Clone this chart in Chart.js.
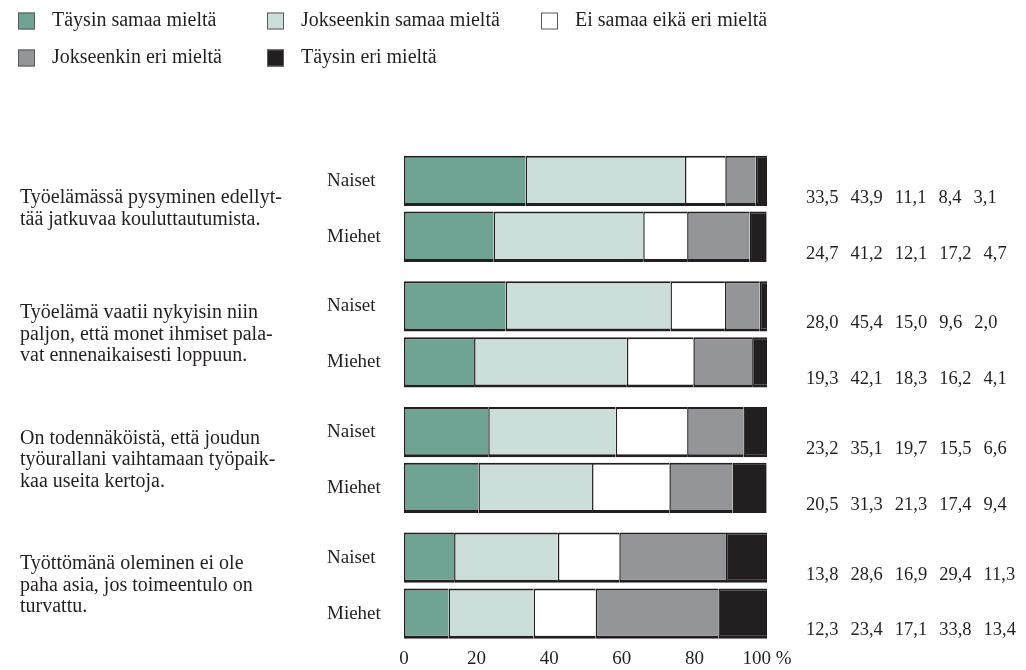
<!DOCTYPE html>
<html>
<head>
<meta charset="utf-8">
<script src="https://cdn.jsdelivr.net/npm/chart.js@4/dist/chart.umd.min.js"></script>
<style>
  html, body { margin: 0; padding: 0; background: #ffffff; }
  #wrap { width: 1026px; height: 670px; position: relative; }
</style>
</head>
<body>
<div id="wrap"><canvas id="c" width="1026" height="670"></canvas></div>
<script>
const questions = [
  ['Työelämässä pysyminen edellyt-', 'tää jatkuvaa kouluttautumista.'],
  ['Työelämä vaatii nykyisin niin', 'paljon, että monet ihmiset pala-', 'vat ennenaikaisesti loppuun.'],
  ['On todennäköistä, että joudun', 'työurallani vaihtamaan työpaik-', 'kaa useita kertoja.'],
  ['Työttömänä oleminen ei ole', 'paha asia, jos toimeentulo on', 'turvattu.']
];
const genders = ['Naiset', 'Miehet'];
const responseLabels = ['Täysin samaa mieltä', 'Jokseenkin samaa mieltä', 'Ei samaa eikä eri mieltä', 'Jokseenkin eri mieltä', 'Täysin eri mieltä'];
const responseColors = ['#6fa394', '#cbded9', '#ffffff', '#949598', '#231f20'];
const naiset = [
  [33.5, 43.9, 11.1, 8.4, 3.1],
  [28.0, 45.4, 15.0, 9.6, 2.0],
  [23.2, 35.1, 19.7, 15.5, 6.6],
  [13.8, 28.6, 16.9, 29.4, 11.3]
];
const miehet = [
  [24.7, 41.2, 12.1, 17.2, 4.7],
  [19.3, 42.1, 18.3, 16.2, 4.1],
  [20.5, 31.3, 21.3, 17.4, 9.4],
  [12.3, 23.4, 17.1, 33.8, 13.4]
];
const xTicks = [0, 20, 40, 60, 80, 100];

const FONT = '"Liberation Serif", "DejaVu Serif", serif';
const INK = '#231f20';

const groups = [naiset, miehet];
const datasets = [];
groups.forEach((rows, g) => {
  responseLabels.forEach((lab, k) => {
    datasets.push({
      label: lab,
      stack: genders[g],
      data: rows.map(r => r[k]),
      backgroundColor: responseColors[k],
      borderColor: INK,
      borderWidth: { top: 2, bottom: 3, left: 1.5, right: 0 },
      borderSkipped: false,
      inflateAmount: 0,
      categoryPercentage: 0.89,
      barPercentage: 0.9
    });
  });
});

const fmt = v => v.toFixed(1).replace('.', ',');

const overlay = {
  id: 'overlay',
  afterDraw(chart) {
    const ctx = chart.ctx;
    ctx.save();
    // legend
    ctx.font = '20px ' + FONT;
    ctx.textBaseline = 'middle';
    ctx.textAlign = 'left';
    const colX = [18, 267, 541];
    const rowY = [21, 58];
    responseLabels.forEach((lab, i) => {
      const x = colX[i % 3], y = rowY[Math.floor(i / 3)];
      ctx.fillStyle = responseColors[i];
      ctx.fillRect(x, y - 8.5, 17, 17);
      ctx.strokeStyle = '#58595b';
      ctx.lineWidth = 1;
      ctx.strokeRect(x + 0.5, y - 8, 16, 16);
      ctx.fillStyle = INK;
      ctx.fillText(lab, x + 34, y);
    });
    // gender labels and values
    genders.forEach((gname, g) => {
      const meta = chart.getDatasetMeta(g * responseLabels.length);
      meta.data.forEach((bar, i) => {
        ctx.font = '19px ' + FONT;
        ctx.fillStyle = INK;
        ctx.textAlign = 'left';
        ctx.fillText(gname, 327, bar.y);
        ctx.font = '18.5px ' + FONT;
        let x = 806;
        groups[g][i].forEach(v => {
          const s = fmt(v);
          ctx.fillText(s, x, bar.y + 17);
          x += ctx.measureText(s).width + 12;
        });
      });
    });
    ctx.restore();
  }
};

new Chart(document.getElementById('c'), {
  type: 'bar',
  data: { labels: questions, datasets },
  options: {
    indexAxis: 'y',
    responsive: false,
    animation: false,
    layout: { padding: { top: 146, right: 259, bottom: 0, left: 20 } },
    plugins: { legend: { display: false }, tooltip: { enabled: false } },
    scales: {
      x: {
        stacked: true,
        min: 0, max: 100,
        afterBuildTicks(scale) { scale.ticks = xTicks.map(v => ({ value: v })); },
        grid: { display: false, drawTicks: false },
        border: { display: false },
        ticks: {
          padding: 0,
          color: INK,
          font: { family: FONT, size: 19, lineHeight: 1.1 },
          callback: v => v === 100 ? '100 %' : String(v)
        }
      },
      y: {
        stacked: true,
        grid: { display: false, drawTicks: false },
        border: { display: false },
        afterFit(scale) { scale.width = 384; },
        ticks: {
          crossAlign: 'far',
          padding: 0,
          color: INK,
          font: { family: FONT, size: 20, lineHeight: 1.08 }
        }
      }
    }
  },
  plugins: [overlay]
});
</script>
</body>
</html>
